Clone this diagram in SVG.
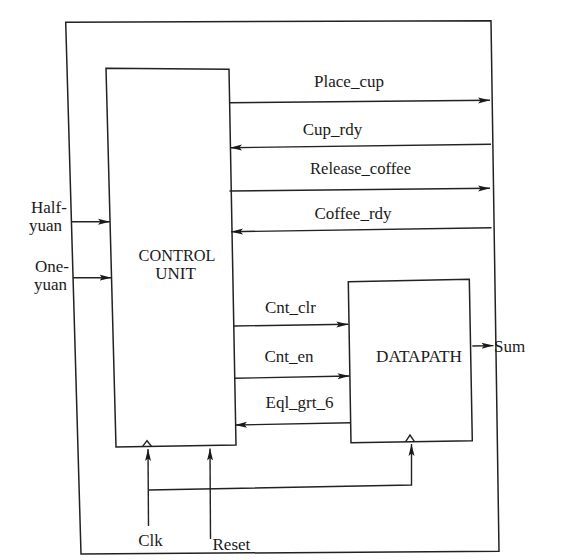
<svg xmlns="http://www.w3.org/2000/svg" width="569" height="560" viewBox="0 0 569 560">
<style>
.box{fill:none;stroke:#222222;stroke-width:1.5;stroke-linejoin:miter}
.ln{fill:none;stroke:#222222;stroke-width:1.4}
.arr{marker-end:url(#ah)}
text{font-family:"Liberation Serif","Times New Roman",serif;font-size:17px;fill:#1a1a1a}
.c{text-anchor:middle}
</style>
<defs>
<marker id="ah" viewBox="0 0 12 7" refX="12" refY="3.5" markerWidth="12" markerHeight="7" markerUnits="userSpaceOnUse" orient="auto">
<path d="M0,0.5 L12,3.5 L0,6.5 L2.5,3.5 Z" fill="#1a1a1a"/>
</marker>
</defs>
<rect width="569" height="560" fill="#ffffff"/>

<g id="system-boundary">
<path class="box" d="M65.7,22.3 L491,20.7 L499,551.3 L81,554 Z"/>
</g>

<g id="control-unit">
<path class="box" d="M106,68.3 L229,69.3 L236,445 L116,447 Z"/>
<polyline class="ln" points="142.5,446.6 147,440.7 151.5,446.4"/>
<text class="c" x="177" y="261" textLength="77" lengthAdjust="spacingAndGlyphs">CONTROL</text>
<text class="c" x="175.5" y="279">UNIT</text>
</g>

<g id="datapath">
<path class="box" d="M348.3,281.7 L469.3,279.3 L472.3,440.7 L351,442.7 Z"/>
<polyline class="ln" points="405.5,441.8 410,435 414.5,441.6"/>
<text class="c" x="419" y="361.5" textLength="86" lengthAdjust="spacingAndGlyphs">DATAPATH</text>
</g>

<g id="input-half-yuan">
<text x="31" y="212.5">Half-</text>
<text x="29" y="231">yuan</text>
</g>
<g id="input-one-yuan">
<text x="35" y="271.5">One-</text>
<text x="34" y="289.5">yuan</text>
</g>
<g id="input-clk">
<text class="c" x="150.5" y="546">Clk</text>
</g>
<g id="input-reset">
<text x="212.5" y="550">Reset</text>
</g>
<g id="output-sum">
<text x="494" y="351.7">Sum</text>
</g>

<g id="connectors">
<line class="ln arr" x1="71" y1="221.7" x2="110" y2="221.7"/>
<line class="ln arr" x1="73" y1="277.7" x2="111.5" y2="277.7"/>

<line class="ln arr" x1="229" y1="102.7" x2="490" y2="100.3"/>
<text class="c" x="349" y="86.5">Place_cup</text>

<line class="ln arr" x1="491" y1="144.3" x2="230" y2="147.7"/>
<text class="c" x="332.5" y="135">Cup_rdy</text>

<line class="ln arr" x1="229.5" y1="191" x2="490" y2="188.3"/>
<text class="c" x="360.5" y="173.5" textLength="101" lengthAdjust="spacingAndGlyphs">Release_coffee</text>

<line class="ln arr" x1="491.5" y1="227.7" x2="231" y2="231.7"/>
<text class="c" x="353" y="218.5">Coffee_rdy</text>

<line class="ln arr" x1="233" y1="326" x2="348.3" y2="324.3"/>
<text class="c" x="290.5" y="312.5">Cnt_clr</text>

<line class="ln arr" x1="234" y1="378.3" x2="349.5" y2="376"/>
<text class="c" x="289" y="361.5">Cnt_en</text>

<line class="ln arr" x1="351" y1="422.7" x2="235" y2="425"/>
<text class="c" x="299.5" y="407.5">Eql_grt_6</text>

<line class="ln arr" x1="472.3" y1="346" x2="493.5" y2="345.6"/>

<line class="ln arr" x1="148.5" y1="526" x2="148" y2="449"/>
<line class="ln arr" x1="210.5" y1="539" x2="210" y2="448.5"/>
<polyline class="ln arr" points="148.3,490 411.5,485 411.5,444"/>
</g>
</svg>
